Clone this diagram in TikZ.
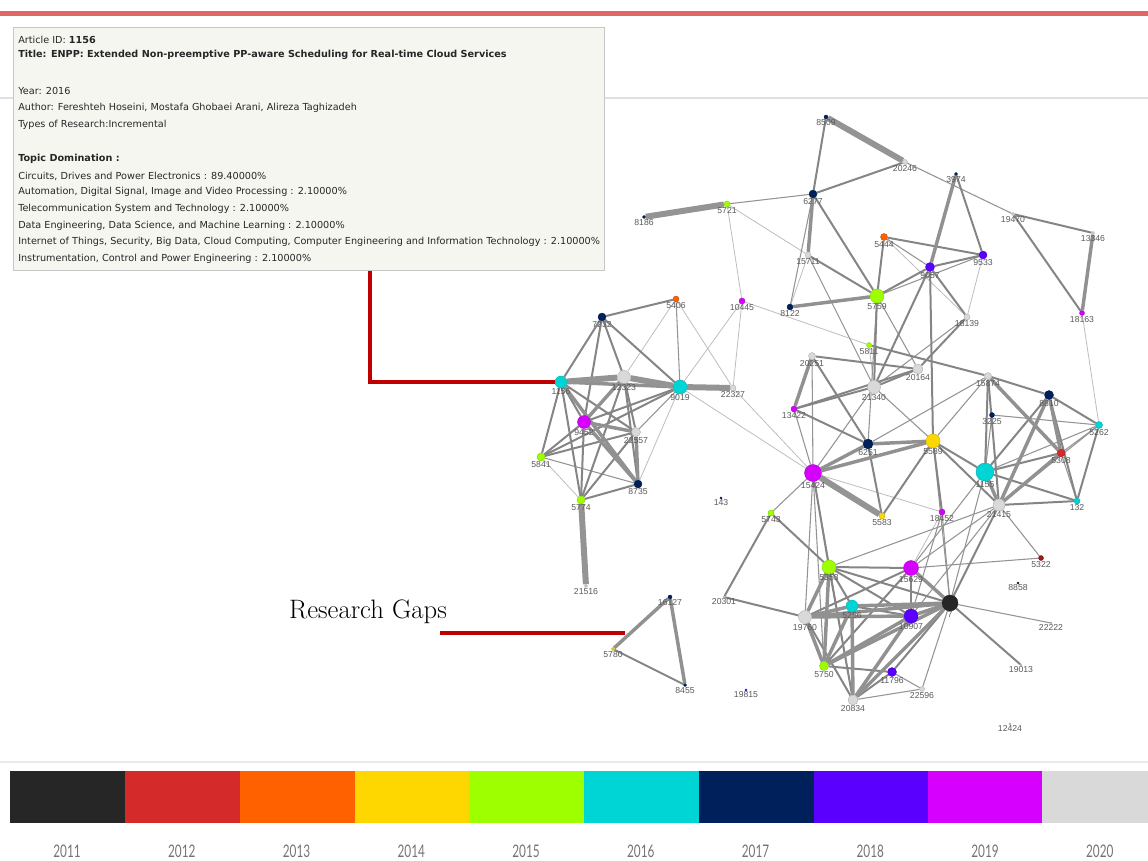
\documentclass[tikz,border=0pt]{standalone}
\usepackage{fontspec}
\newfontfamily\infofont{DejaVu Sans}
\newfontfamily\labfont{Liberation Sans}
\newfontfamily\yearfont{Lato}
\usetikzlibrary{backgrounds}
\definecolor{c11}{HTML}{262626}
\definecolor{c12}{HTML}{D42A2A}
\definecolor{c13}{HTML}{FF6000}
\definecolor{c14}{HTML}{FFD700}
\definecolor{c15}{HTML}{9EFF00}
\definecolor{c16}{HTML}{00D5D5}
\definecolor{c17}{HTML}{00205B}
\definecolor{c18}{HTML}{5A00FF}
\definecolor{c19}{HTML}{D600FF}
\definecolor{c20}{HTML}{D9D9D9}
\definecolor{topred}{HTML}{E06666}
\definecolor{callred}{HTML}{C00000}
\definecolor{boxfill}{HTML}{F6F6F1}
\tikzset{
  v/.style 2 args={circle, fill=#1, draw=#1!80!black, line width=0.3pt, inner sep=0pt, minimum size=#2*0.75pt},
  lab/.style={font=\labfont\fontsize{6.5}{7}\selectfont, text=black!65, inner sep=0.3pt},
  every label/.style={lab},
  label distance=0pt,
  ea/.style={draw=black!26, line width=0.6pt},
  eb/.style={draw=black!42, line width=0.8pt},
  ec/.style={draw=black!48, line width=1.5pt},
  ed/.style={draw=black!43, line width=2.6pt},
  ee/.style={draw=black!42, line width=4.5pt},
  info/.style={font=\infofont\fontsize{7.25}{8}\selectfont, text=black!85, anchor=west, inner sep=0pt},
  callout/.style={draw=callred, line width=2.4pt},
  yr/.style={font=\yearfont\fontsize{13}{15}\selectfont, text=black!55, inner sep=0pt},
  legbox/.style={anchor=north west, inner sep=0pt, minimum width=114.75*0.75pt, minimum height=52*0.75pt},
}
\begin{document}
\begin{tikzpicture}[x=0.75pt,y=-0.75pt]
\useasboundingbox (0,0) rectangle (1148,860);
% header
\fill[topred] (0,11) rectangle (1148,16);
\draw[black!12, line width=1pt] (0,98) -- (1148,98);
\draw[black!8, line width=1pt] (0,762) -- (1148,762);

% ---------------- nodes ----------------
% left cluster
\node[v={c16}{12}, label=below:1156] (n1156) at (561,382) {};
\node[v={c20}{13}, label=below:12323] (n12323) at (624,377) {};
\node[v={c16}{14}, label=below:9019] (n9019) at (680,387) {};
\node[v={c20}{6}, label=below:22327] (n22327) at (733,388) {};
\node[v={c17}{8}, label=below:7232] (n7232) at (602,317) {};
\node[v={c13}{6}, label=below:5406] (n5406) at (676,299) {};
\node[v={c19}{6}, label=below:10445] (n10445) at (742,301) {};
\node[v={c19}{13}, label=below:9452] (n9452) at (584,422) {};
\node[v={c20}{9}, label=below:22557] (n22557) at (636,432) {};
\node[v={c15}{8}, label=below:5841] (n5841) at (541,457) {};
\node[v={c17}{8}, label=below:8735] (n8735) at (638,484) {};
\node[v={c15}{8}, label=below:5774] (n5774) at (581,500) {};
\node[v={c20}{3}, label=below:21516] (n21516) at (586,586) {};
\node[v={c17}{2}, label=below:143] (n143) at (721,498) {};
% top
\node[v={c17}{4}, label=below:8509] (n8509) at (826,117) {};
\node[v={c20}{5}, label=below:20246] (n20246) at (905,162) {};
\node[v={c17}{8}, label=below:6277] (n6277) at (813,194) {};
\node[v={c15}{6}, label=below:5721] (n5721) at (727,204) {};
\node[v={c17}{3}, label=below:8186] (n8186) at (644,217) {};
\node[v={c20}{6}, label=below:15711] (n15711) at (808,255) {};
\node[v={c13}{7}, label=below:5444] (n5444) at (884,237) {};
\node[v={c15}{14}, label=below:5759] (n5759) at (877,296) {};
\node[v={c17}{6}, label=below:8122] (n8122) at (790,307) {};
\node[v={c17}{3}, label=below:3974] (n3974) at (956,174) {};
\node[v={c20}{3}, label=below:19470] (n19470) at (1013,214) {};
\node[v={c20}{3}, label=below:13346] (n13346) at (1093,233) {};
\node[v={c19}{5}, label=below:18163] (n18163) at (1082,313) {};
\node[v={c18}{9}, label=below:9057] (n9057) at (930,267) {};
\node[v={c18}{8}, label=below:9533] (n9533) at (983,255) {};
\node[v={c20}{6}, label=below:18139] (n18139) at (967,317) {};
% middle
\node[v={c15}{5}, label=below:5811] (n5811) at (869,345) {};
\node[v={c20}{7}, label=below:20251] (n20251) at (812,356) {};
\node[v={c20}{10}, label=below:20164] (n20164) at (918,369) {};
\node[v={c20}{13}, label=below:21340] (n21340) at (874,387) {};
\node[v={c19}{6}, label=below:13422] (n13422) at (794,409) {};
\node[v={c20}{7}, label=below:15874] (n15874) at (988,376) {};
\node[v={c17}{5}, label=below:3225] (n3225) at (992,415) {};
\node[v={c17}{10}, label=below:6251] (n6251) at (868,444) {};
\node[v={c14}{14}, label=below:5589] (n5589) at (933,441) {};
\node[v={c19}{17}, label=below:15424] (n15424) at (813,473) {};
\node[v={c14}{6}, label=below:5583] (n5583) at (882,516) {};
\node[v={c19}{6}, label=below:18452] (n18452) at (942,512) {};
\node[v={c16}{18}, label=below:1155] (n1155) at (985,472) {};
\node[v={c15}{6}, label=below:5743] (n5743) at (771,513) {};
\node[v={c20}{12}, label=below:21415] (n21415) at (999,505) {};
\node[v={c17}{9}, label=below:8810] (n8810) at (1049,395) {};
\node[v={c16}{7}, label=below:5262] (n5262) at (1099,425) {};
\node[v={c12}{8}, label=below:5308] (n5308) at (1061,453) {};
\node[v={c16}{6}, label=below:132] (n132) at (1077,501) {};
\node[v={c12!70!black}{5}, label=below:5322] (n5322) at (1041,558) {};
% bottom
\node[v={c15}{14}, label=below:5353] (n5353) at (829,567) {};
\node[v={c19}{15}, label=below:15629] (n15629) at (911,568) {};
\node[v={c11}{16}, label=below:7] (n7) at (950,603) {};
\node[v={c16}{12}, label=below:5256] (n5256) at (852,606) {};
\node[v={c18}{14}, label=below:10907] (n10907) at (911,616) {};
\node[v={c20}{13}, label=below:19760] (n19760) at (805,617) {};
\node[v={c15}{9}, label=below:5750] (n5750) at (824,666) {};
\node[v={c18}{9}, label=below:11796] (n11796) at (892,672) {};
\node[v={c20}{5}, label=below:22596] (n22596) at (922,689) {};
\node[v={c20}{10}, label=below:20834] (n20834) at (853,700) {};
\node[v={c20}{2}, label=below:20301] (n20301) at (724,597) {};
\node[v={c18}{2}, label=below:19815] (n19815) at (746,690) {};
\node[v={c17}{3}, label=below:8455] (n8455) at (685,685) {};
\node[v={c17}{4}, label=below:16127] (n16127) at (670,597) {};
\node[v={c14}{3}, label=below:5780] (n5780) at (613,649) {};
\node[v={c11}{2}, label=below:8858] (n8858) at (1018,583) {};
\node[v={c20}{2}, label=below:22222] (n22222) at (1051,623) {};
\node[v={c20}{2}, label=below:19013] (n19013) at (1021,665) {};
\node[v={c20}{2}, label=below:12424] (n12424) at (1010,724) {};

% ---------------- edges ----------------
\begin{pgfonlayer}{background}
\foreach \a/\b in {5721/15711, 5721/10445, 15711/8122, 10445/5811, 10445/22327, 10445/9019, 5406/12323, 5406/22327, 5444/18139, 9533/18139, 5841/5774, 9019/8735, 9019/15424, 22327/15424, 15424/18452, 18163/5262, 18452/15629, 5811/21340}
  \draw[ea] (n\a) -- (n\b);
\foreach \a/\b in {5721/6277, 6277/8122, 20246/19470, 5444/9057, 9533/5759, 5759/6251, 5759/20164, 15711/21340, 20251/15424, 13422/15424, 21340/15424, 21340/5589, 3225/1155, 3225/5262, 5589/15874, 1155/5262, 21415/5262, 21415/5322, 5308/5262, 5308/132, 15424/5743, 15424/19760, 15424/20834, 15424/5750, 7/22596, 11796/22596, 20834/22596, 7/22222, 5841/8735, 9019/22557, 5406/9019, 21415/15629, 21415/10907, 5589/7, 1155/7, 1155/15629, 18452/7, 18452/10907, 5322/15629, 21415/5353, 6251/15874, 18139/21340}
  \draw[eb] (n\a) -- (n\b);
\foreach \a/\b in {7232/5406, 7232/1156, 7232/9452, 7232/12323, 7232/9019, 1156/9452, 1156/22557, 1156/5841, 1156/5774, 12323/22557, 12323/8735, 12323/5774, 9019/9452, 9019/5841, 9452/5841, 9452/5774, 22557/5841, 5774/8735, 5774/22557, 8509/6277, 6277/20246, 6277/5759, 15711/5759, 3974/9533, 19470/13346, 19470/18163, 5444/9533, 5444/5759, 9057/9533, 9057/5759, 9057/18139, 9057/21340, 5759/21340, 18139/20164, 13422/21340, 13422/20164, 20251/20164, 20251/6251, 13422/6251, 21340/20164, 5811/15874, 15874/8810, 15874/1155, 6251/5583, 5589/5583, 5589/18452, 5589/1155, 5589/21415, 9057/5589, 1155/8810, 1155/5308, 1155/132, 21415/132, 21415/15874, 8810/5262, 8810/132, 5262/132, 15424/5353, 5743/5353, 20301/5743, 20301/19760, 5353/5256, 5353/15629, 5353/7, 5353/10907, 5353/20834, 5256/10907, 15629/10907, 15629/5750, 15629/19760, 7/11796, 11796/5750, 11796/20834, 19760/20834, 21415/7, 5780/8455, 7/19013}
  \draw[ec] (n\a) -- (n\b);
\foreach \a/\b in {6277/15711, 13346/18163, 3974/9057, 16127/8455, 16127/5780, 12323/9452, 9452/22557, 9452/8735, 22557/8735, 1156/8735, 20251/13422, 6251/5589, 15424/5589, 15424/6251, 8122/5759, 1155/21415, 21415/8810, 21415/5308, 8810/5308, 15874/5308, 5353/19760, 5353/5750, 19760/5256, 19760/7, 19760/10907, 19760/5750, 5256/7, 5256/5750, 15629/7, 10907/7, 10907/20834, 10907/5750, 7/20834, 7/5750, 5256/20834, 1156/9019}
  \draw[ed] (n\a) -- (n\b);
\foreach \a/\b in {8186/5721, 8509/20246, 5774/21516, 1156/12323, 12323/9019, 9019/22327, 15424/5583}
  \draw[ee] (n\a) -- (n\b);
\end{pgfonlayer}

% ---------------- info box ----------------
\node[anchor=north west, draw=black!22, fill=boxfill, line width=0.8pt, inner sep=0pt, minimum width=591*0.75pt, minimum height=243*0.75pt] (infobox) at (13,27) {};
\node[info] (t1) at (18,40) {Article ID: \textbf{1156}};
\node[info] (t2) at (18,55) {\textbf{Title: ENPP: Extended Non-preemptive PP-aware Scheduling for Real-time Cloud Services}};
\node[info] (t3) at (18,91) {Year: 2016};
\node[info] (t4) at (18,108) {Author: Fereshteh Hoseini, Mostafa Ghobaei Arani, Alireza Taghizadeh};
\node[info] (t5) at (18,125) {Types of Research:Incremental};
\node[info] (t6) at (18,159) {\textbf{Topic Domination :}};
\node[info] (t7) at (18,176) {Circuits, Drives and Power Electronics : 89.40000\%};
\node[info] (t8) at (18,192) {Automation, Digital Signal, Image and Video Processing : 2.10000\%};
\node[info] (t9) at (18,209) {Telecommunication System and Technology : 2.10000\%};
\node[info] (t10) at (18,226) {Data Engineering, Data Science, and Machine Learning : 2.10000\%};
\node[info] (t11) at (18,242) {Internet of Things, Security, Big Data, Cloud Computing, Computer Engineering and Information Technology : 2.10000\%};
\node[info] (t12) at (18,259) {Instrumentation, Control and Power Engineering : 2.10000\%};

% ---------------- callouts ----------------
\coordinate (k1) at (370,271);
\draw[callout] (k1) |- (n1156.west);
\node[font=\fontsize{20}{22}\selectfont, text=black, inner sep=0pt] (gaps) at (368,612) {Research Gaps};
\coordinate (k2) at (440,633);
\coordinate (k3) at (625,633);
\draw[callout] (k2) -- (k3);

% ---------------- legend ----------------
\foreach \c [count=\i from 0] in {c11,c12,c13,c14,c15,c16,c17,c18,c19} {
  \node[legbox, fill=\c] (lb\i) at ({10+114.75*\i},771) {};
}
\node[legbox, fill=c20, minimum width=107*0.75pt] (lb9) at (1041.5,771) {};
\foreach \y [count=\i from 0] in {2011,2012,2013,2014,2015,2016,2017,2018,2019,2020} {
  \node[yr] (yl\i) at ({67+114.75*\i},851) {\scalebox{0.68}[1]{\y}};
}
\end{tikzpicture}
\end{document}
